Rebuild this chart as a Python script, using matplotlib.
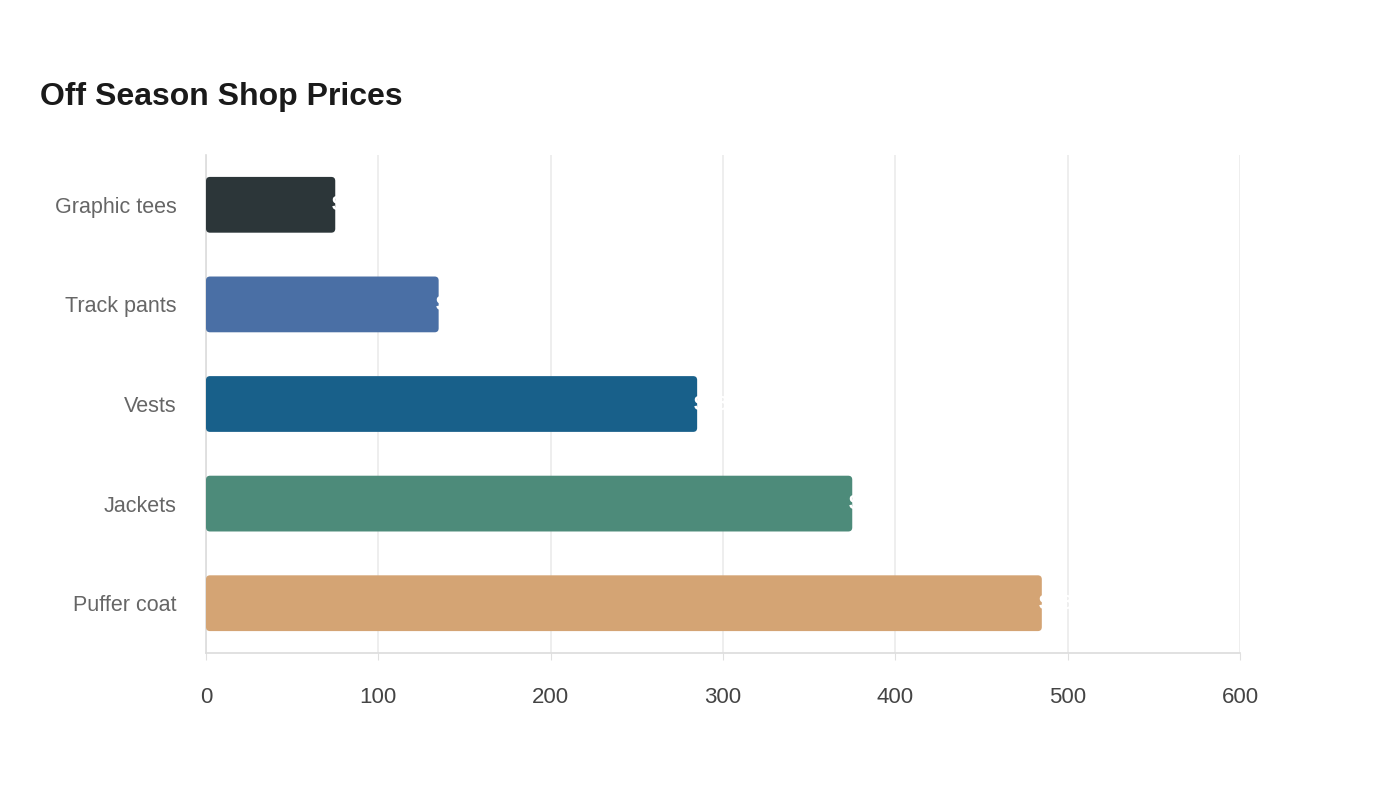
import matplotlib
matplotlib.use("Agg")
import matplotlib.pyplot as plt
from matplotlib.patches import FancyBboxPatch

categories = ["Graphic tees", "Track pants", "Vests", "Jackets", "Puffer coat"]
prices = [75, 135, 285, 375, 485]
labels = ["$75", "$135", "$285", "$375", "$485"]
colors = ["#2c3639", "#4a6fa5", "#18608a", "#4d8b7a", "#d4a474"]
xticks = [0, 100, 200, 300, 400, 500, 600]

plt.rcParams['font.family'] = ['Liberation Sans', 'DejaVu Sans']

fig = plt.figure(figsize=(14, 8), dpi=100)
ax = fig.add_axes([206/1400, 1-653/800, (1240-206)/1400, (653-155)/800])

ypos = list(range(len(categories)))
bars = ax.barh(ypos, prices, height=0.56, color=colors)
ax.set_xlim(0, 600)
ax.set_ylim(len(categories)-0.5, -0.5)

# replace bars with rounded ones
xpx = (1240-206)/600.0
ypx = (653-155)/5.0
r = 4.0
for b in bars:
    x0, y0 = b.get_x(), b.get_y()
    w, h = b.get_width(), b.get_height()
    fc = b.get_facecolor()
    b.set_visible(False)
    p = FancyBboxPatch((x0, y0), w, h,
                       boxstyle=f"round,pad=0,rounding_size={r/xpx}",
                       mutation_aspect=(r/ypx)/(r/xpx),
                       facecolor=fc, edgecolor="none", zorder=3)
    ax.add_patch(p)

for yi, v, lab in zip(ypos, prices, labels):
    ax.text(v - 2, yi, lab, color="white", fontsize=15, fontweight="bold",
            va="center", ha="left", zorder=4)

ax.set_yticks(ypos)
ax.set_yticklabels(categories, fontsize=15.5, color="#666666")
ax.set_xticks(xticks)
ax.set_xticklabels([str(t) for t in xticks], fontsize=16, color="#444444")
ax.tick_params(axis="y", length=0, pad=21)
ax.tick_params(axis="x", length=5, color="#e0e0e0", pad=19.5)

ax.grid(axis="x", color="#ebebeb", linewidth=1.2, zorder=0)
ax.set_axisbelow(True)
for s in ["top", "right"]:
    ax.spines[s].set_visible(False)
ax.spines["left"].set_color("#dcdcdc")
ax.spines["bottom"].set_color("#dcdcdc")
ax.spines["left"].set_linewidth(1.2)
ax.spines["bottom"].set_linewidth(1.2)

fig.text(40/1400, 1-97/800, "Off Season Shop Prices", fontsize=23, fontweight="bold",
         color="#1a1a1a", va="center", ha="left")

fig.savefig("out.png", dpi=100, facecolor="white")
